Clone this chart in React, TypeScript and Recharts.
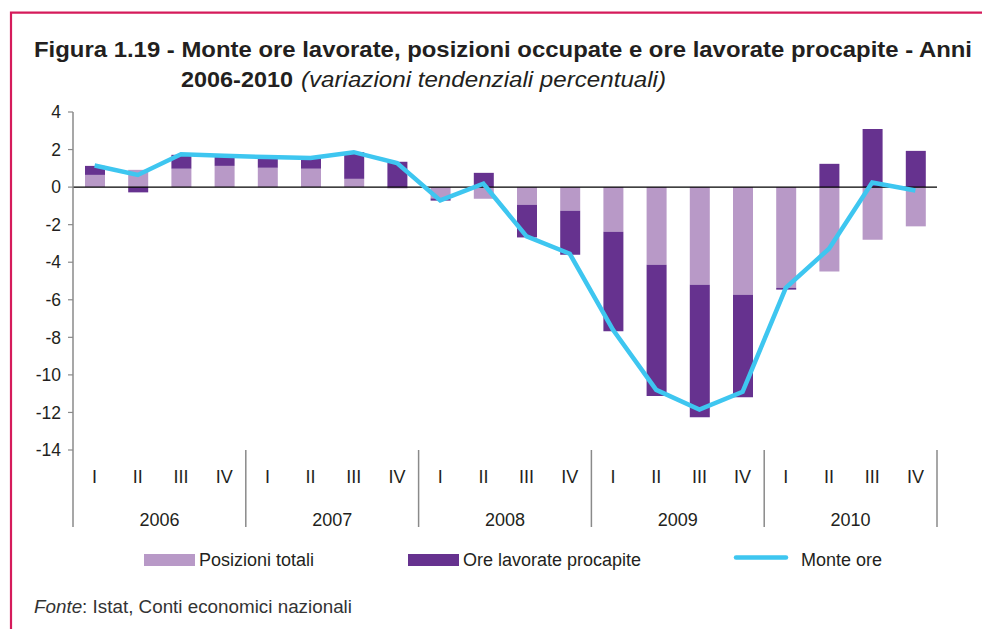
import React from "react";
import {
  ComposedChart,
  Bar,
  Line,
  XAxis,
  YAxis,
  ReferenceLine,
} from "recharts";

const quarters = ["I", "II", "III", "IV", "I", "II", "III", "IV", "I", "II", "III", "IV", "I", "II", "III", "IV", "I", "II", "III", "IV"];
const years = ["2006", "2007", "2008", "2009", "2010"];
const posizioniTotali = [0.65, 0.92, 0.98, 1.13, 1.03, 0.98, 0.44, -0.07, -0.6, -0.62, -0.94, -1.26, -2.38, -4.13, -5.2, -5.73, -5.37, -4.5, -2.8, -2.09];
const oreProcapite = [0.48, -0.28, 0.74, 0.54, 0.57, 0.57, 1.42, 1.35, -0.12, 0.76, -1.74, -2.34, -5.3, -7.0, -7.05, -5.46, -0.09, 1.24, 3.1, 1.93];
const monteOre = [1.15, 0.65, 1.75, 1.67, 1.6, 1.55, 1.86, 1.28, -0.71, 0.18, -2.62, -3.55, -7.6, -10.8, -11.85, -10.9, -5.37, -3.28, 0.25, -0.18];
const yTicks = [4, 2, 0, -2, -4, -6, -8, -10, -12, -14];

const data = quarters.map((q, i) => ({
  q: `${q}-${i}`,
  label: q,
  year: years[Math.floor(i / 4)],
  pos: posizioniTotali[i],
  ore: oreProcapite[i],
  monte: monteOre[i],
}));

const W = 982;
const H = 629;
const PLOT_LEFT = 73;
const PLOT_RIGHT = 937;
const PLOT_TOP = 112;
const PLOT_BOTTOM = 450;
const BAND = (PLOT_RIGHT - PLOT_LEFT) / quarters.length;
const FONT = "'Liberation Sans', Arial, Helvetica, sans-serif";
const TEXT = "#231f20";
const LIGHT = "#b899c7";
const DARK = "#66328f";
const CYAN = "#3ec6f0";
const AXIS = "#8a8a8a";

const XTick = (props: any) => {
  const { x, payload } = props;
  const i = payload.index;
  const d = data[i];
  const els: React.ReactNode[] = [];
  els.push(
    <text key="q" x={x} y={483} textAnchor="middle" fontSize={18} fill={TEXT} fontFamily={FONT}>
      {d.label}
    </text>
  );
  if (i % 4 === 0) {
    els.push(
      <line key="sep" x1={x - BAND / 2} x2={x - BAND / 2} y1={PLOT_BOTTOM} y2={527} stroke={AXIS} strokeWidth={1.5} />
    );
  }
  if (i % 4 === 1) {
    els.push(
      <text key="y" x={x + BAND / 2} y={526} textAnchor="middle" fontSize={18} fill={TEXT} fontFamily={FONT}>
        {d.year}
      </text>
    );
  }
  if (i === data.length - 1) {
    els.push(
      <line key="end" x1={x + BAND / 2} x2={x + BAND / 2} y1={PLOT_BOTTOM} y2={527} stroke={AXIS} strokeWidth={1.5} />
    );
  }
  return <g>{els}</g>;
};

export default function App() {
  const yAxisWidth = 60;
  const xAxisHeight = 80;
  return (
    <div style={{ position: "absolute", left: 0, top: 0, width: W, height: H, background: "#fff" }}>
      <ComposedChart
        width={W}
        height={H}
        data={data}
        stackOffset="sign"
        margin={{
          top: PLOT_TOP,
          right: W - PLOT_RIGHT,
          bottom: H - PLOT_BOTTOM - xAxisHeight,
          left: PLOT_LEFT - yAxisWidth,
        }}
      >
        <XAxis
          dataKey="q"
          interval={0}
          tickLine={false}
          axisLine={false}
          height={xAxisHeight}
          tick={<XTick />}
        />
        <YAxis
          width={yAxisWidth}
          domain={[-14, 4]}
          ticks={yTicks}
          interval={0}
          tickSize={5}
          tickMargin={7}
          axisLine={{ stroke: AXIS, strokeWidth: 1.5 }}
          tickLine={{ stroke: AXIS, strokeWidth: 1.2 }}
          tick={{ fill: TEXT, fontSize: 17.5, fontFamily: FONT }}
        />
        <Bar dataKey="pos" stackId="a" fill={LIGHT} barSize={20} isAnimationActive={false} />
        <Bar dataKey="ore" stackId="a" fill={DARK} barSize={20} isAnimationActive={false} />
        <ReferenceLine y={0} stroke="#000" strokeWidth={1.2} />
        <Line
          dataKey="monte"
          type="linear"
          stroke={CYAN}
          strokeWidth={4.5}
          dot={false}
          activeDot={false}
          isAnimationActive={false}
        />
      </ComposedChart>
      <svg
        width={W}
        height={H}
        style={{ position: "absolute", left: 0, top: 0, pointerEvents: "none" }}
      >
        <path d={`M11,${H} V12.7 H${W}`} fill="none" stroke="#d51b5b" strokeWidth={2.2} />
        <text x={34} y={57} fontSize={22} fontWeight="bold" fill={TEXT} fontFamily={FONT} textLength={938} lengthAdjust="spacingAndGlyphs">
          Figura 1.19 - Monte ore lavorate, posizioni occupate e ore lavorate procapite - Anni
        </text>
        <text x={181} y={87} fontSize={22} fontWeight="bold" fill={TEXT} fontFamily={FONT} textLength={112} lengthAdjust="spacingAndGlyphs">
          2006-2010
        </text>
        <text x={301} y={87} fontSize={22} fontStyle="italic" fill={TEXT} fontFamily={FONT} textLength={365} lengthAdjust="spacingAndGlyphs">
          (variazioni tendenziali percentuali)
        </text>
        <rect x={144} y={554} width={51} height={12} fill={LIGHT} />
        <text x={199} y={566} fontSize={18} fill={TEXT} fontFamily={FONT}>Posizioni totali</text>
        <rect x={408} y={554} width={51} height={12} fill={DARK} />
        <text x={463} y={566} fontSize={18} fill={TEXT} fontFamily={FONT}>Ore lavorate procapite</text>
        <line x1={736} x2={786} y1={557.5} y2={557.5} stroke={CYAN} strokeWidth={4.5} strokeLinecap="round" />
        <text x={801} y={566} fontSize={18} fill={TEXT} fontFamily={FONT}>Monte ore</text>
        <text x={34} y={613} fontSize={17.5} fill="#333" fontFamily={FONT} textLength={318} lengthAdjust="spacingAndGlyphs">
          <tspan fontStyle="italic">Fonte</tspan>
          <tspan>: Istat, Conti economici nazionali</tspan>
        </text>
      </svg>
    </div>
  );
}
